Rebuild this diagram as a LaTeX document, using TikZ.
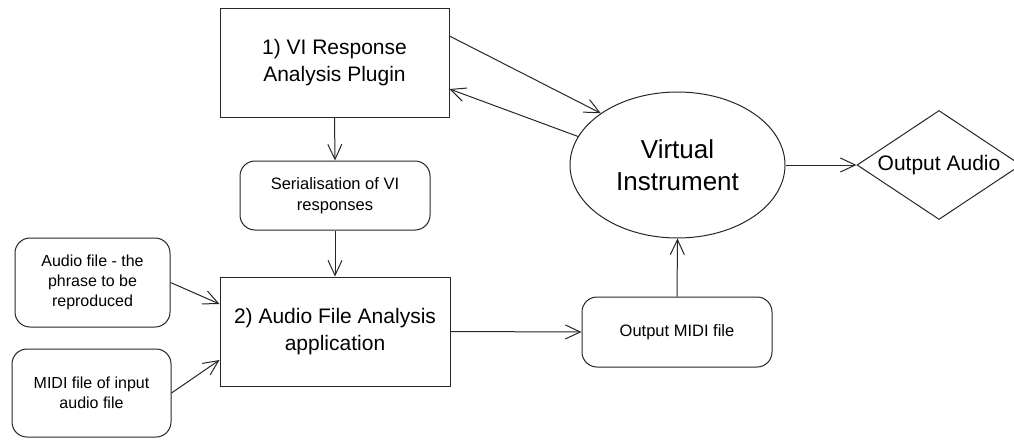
\documentclass[tikz,border=0pt]{standalone}
\usepackage{fontspec}
\setmainfont{Liberation Sans}
\usetikzlibrary{shapes.geometric,arrows.meta}
\begin{document}
\begin{tikzpicture}[x=1pt,y=-1pt,
  every node/.style={inner sep=0pt,align=center,text=black},
  sqbox/.style={draw=black!85,line width=1pt,rectangle},
  rbox/.style={draw=black!85,line width=1pt,rectangle,rounded corners=15pt},
  bigtxt/.style={font=\fontsize{21}{26.5}\selectfont},
  smalltxt/.style={font=\fontsize{16.5}{21.5}\selectfont},
  arr/.style={draw=black!85,line width=1pt,-{Straight Barb[length=15pt,width=14pt,line width=1pt]}}
]
\useasboundingbox (0,0) rectangle (1014,439);
\node[sqbox,bigtxt,minimum width=229pt,minimum height=109pt] (box1) at (334.5,62.5) {1) VI Response\\Analysis Plugin};
\node[rbox,smalltxt,minimum width=190pt,minimum height=69pt] (ser) at (335,195.5) {Serialisation of VI\\responses};
\node[sqbox,bigtxt,minimum width=230pt,minimum height=109pt] (box2) at (335,331.5) {2) Audio File Analysis\\application};
\node[rbox,font=\fontsize{16}{20}\selectfont,minimum width=155pt,minimum height=89pt] (audio) at (92.5,282.5) {Audio file - the\\phrase to be\\reproduced};
\node[rbox,font=\fontsize{16}{20}\selectfont,minimum width=159pt,minimum height=88pt] (midi) at (91.5,393) {MIDI file of input\\audio file};
\node[rbox,smalltxt,minimum width=190pt,minimum height=70pt] (outmidi) at (677,332) {Output MIDI file};
\node[ellipse,draw=black!85,line width=1pt,font=\fontsize{26}{32}\selectfont,minimum width=215pt,minimum height=146pt] (vi) at (677.5,165) {Virtual\\Instrument};
\node[diamond,shape aspect=1.5,draw=black!85,line width=1pt,font=\fontsize{21}{26}\selectfont,minimum width=164pt,minimum height=109pt] (audioout) at (939,165) {Output Audio};
\draw[arr] ([yshift=26.5pt]box1.east) -- (vi.146);
\draw[arr] (vi.164) -- ([yshift=-26.5pt]box1.east);
\draw[arr] (box1.south) -- (ser.north);
\draw[arr] (ser.south) -- (box2.north);
\draw[arr] (audio.east) -- ([yshift=27.5pt]box2.west);
\draw[arr] (midi.east) -- ([yshift=-28.5pt]box2.west);
\draw[arr] (box2.east) -- (outmidi.west);
\draw[arr] (outmidi.north) -- (vi.south);
\draw[arr] (vi.east) -- (audioout.west);
\end{tikzpicture}
\end{document}
